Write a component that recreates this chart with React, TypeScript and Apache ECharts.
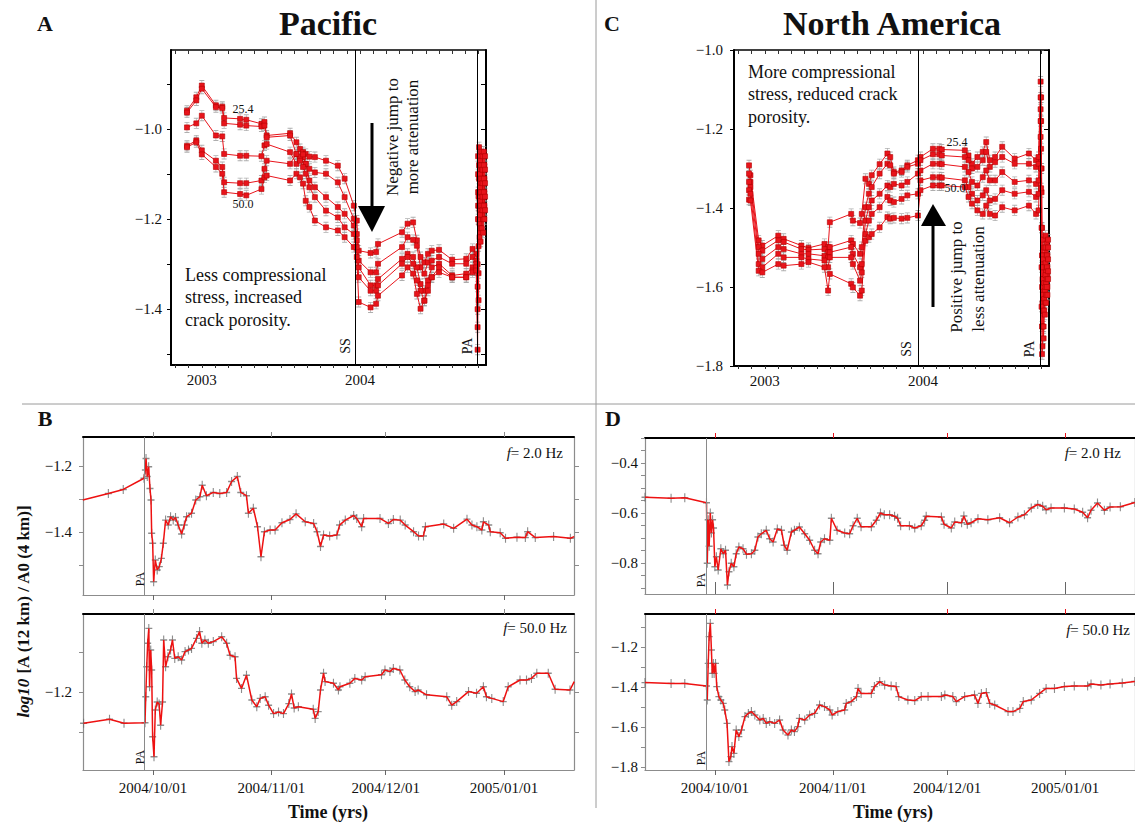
import { useEffect, useRef } from 'react';
import * as echarts from 'echarts';

const SERIF = 'Liberation Serif';
const RED = '#e8141b';
const LINE_RED = '#ee1111';
const AX_GRAY = '#8c8c8c';
const MINUS = '\u2212';

// ---- event markers ----
const SS_YEAR = 2003.973; // San Simeon 2003-12-22
const PA_YEAR = 2004.742; // Parkfield 2004-09-28
const PA_DAY = -2.28; // days relative to 2004/10/01

// ---- axes ----
const YEAR_MIN = 2002.805;
const YEAR_MAX = 2004.797;
const YEAR_LABELS = [2003, 2004];
const DAY_MIN = -18.35;
const DAY_MAX = 110.35;
const MONTH_DAYS = [0, 31, 61, 92];
const MONTH_LABELS = ['2004/10/01', '2004/11/01', '2004/12/01', '2005/01/01'];
const FREQS = ['25.4 Hz', '30.1 Hz', '35.6 Hz', '42.2 Hz', '50.0 Hz'];

// ---- Panel A: Pacific, 2003-2004 (decimal years) ----
const A_YEARS = [2002.906, 2002.965, 2003.0, 2003.089, 2003.129, 2003.141, 2003.242, 2003.281, 2003.377, 2003.396,
  2003.41, 2003.558, 2003.598, 2003.621, 2003.64, 2003.657, 2003.68, 2003.715, 2003.785, 2003.86,
  2003.903, 2003.961, 2003.98, 2003.992, 2004.067, 2004.102, 2004.114, 2004.266, 2004.301, 2004.336,
  2004.36, 2004.383, 2004.407, 2004.43, 2004.454, 2004.5, 2004.583, 2004.672, 2004.712, 2004.735,
  2004.744, 2004.747, 2004.75, 2004.753, 2004.756, 2004.759, 2004.763, 2004.767, 2004.771, 2004.775,
  2004.779, 2004.783, 2004.787, 2004.791];
const A_F1 = [-0.959, -0.929, -0.903, -0.947, -0.95, -0.975, -0.977, -0.979, -0.988, -0.984,
  -1.014, -1.009, -1.029, -1.044, -1.051, -1.055, -1.061, -1.062, -1.07, -1.081,
  -1.11, -1.17, -1.203, -1.27, -1.275, -1.273, -1.255, -1.229, -1.21, -1.207,
  -1.247, -1.284, -1.296, -1.277, -1.27, -1.268, -1.29, -1.288, -1.266, -1.277,
  -1.3, -1.06, -1.15, -1.04, -1.1, -1.07, -1.12, -1.05, -1.09, -1.06, -1.11, -1.05, -1.08, -1.06];
const A_F2 = [-0.963, -0.936, -0.91, -0.951, -0.953, -0.987, -0.99, -0.992, -0.994, -0.992,
  -1.018, -1.014, -1.056, -1.066, -1.062, -1.077, -1.088, -1.096, -1.099, -1.118,
  -1.151, -1.199, -1.233, -1.292, -1.318, -1.318, -1.299, -1.262, -1.24, -1.246,
  -1.259, -1.307, -1.321, -1.296, -1.292, -1.284, -1.299, -1.299, -1.284, -1.292,
  -1.35, -1.1, -1.2, -1.08, -1.14, -1.1, -1.16, -1.08, -1.13, -1.09, -1.14, -1.08, -1.11, -1.09];
const A_F3 = [-0.996, -0.987, -0.97, -1.014, -1.016, -1.055, -1.059, -1.059, -1.06, -1.036,
  -1.033, -1.051, -1.077, -1.061, -1.056, -1.077, -1.114, -1.129, -1.151, -1.173,
  -1.188, -1.214, -1.247, -1.307, -1.347, -1.347, -1.333, -1.288, -1.277, -1.284,
  -1.307, -1.344, -1.359, -1.336, -1.307, -1.299, -1.325, -1.321, -1.307, -1.299,
  -1.4, -1.14, -1.26, -1.11, -1.18, -1.13, -1.19, -1.11, -1.16, -1.12, -1.17, -1.11, -1.14, -1.12];
const A_F4 = [-1.037, -1.025, -1.047, -1.07, -1.084, -1.118, -1.12, -1.12, -1.114, -1.088,
  -1.07, -1.077, -1.055, -1.07, -1.084, -1.099, -1.129, -1.151, -1.181, -1.196,
  -1.218, -1.233, -1.262, -1.329, -1.359, -1.359, -1.347, -1.299, -1.284, -1.299,
  -1.336, -1.359, -1.381, -1.347, -1.329, -1.307, -1.329, -1.329, -1.314, -1.307,
  -1.44, -1.17, -1.32, -1.14, -1.21, -1.16, -1.22, -1.14, -1.19, -1.15, -1.2, -1.14, -1.17, -1.15];
const A_F5 = [-1.04, -1.029, -1.056, -1.084, -1.099, -1.14, -1.144, -1.147, -1.133, -1.107,
  -1.103, -1.114, -1.099, -1.107, -1.121, -1.159, -1.173, -1.203, -1.218, -1.225,
  -1.24, -1.262, -1.284, -1.384, -1.396, -1.388, -1.37, -1.325, -1.307, -1.321,
  -1.366, -1.399, -1.381, -1.359, -1.329, -1.318, -1.329, -1.329, -1.318, -1.314,
  -1.49, -1.2, -1.38, -1.17, -1.24, -1.19, -1.25, -1.17, -1.22, -1.18, -1.23, -1.17, -1.2, -1.18];

// ---- Panel C: North America, 2003-2004 ----
const C_YEARS = [2002.9, 2002.909, 2002.961, 2002.984, 2003.085, 2003.119, 2003.231, 2003.276, 2003.377, 2003.4,
  2003.411, 2003.546, 2003.557, 2003.602, 2003.613, 2003.636, 2003.658, 2003.676, 2003.726, 2003.775,
  2003.793, 2003.816, 2003.865, 2003.901, 2003.968, 2003.984, 2004.063, 2004.103, 2004.119, 2004.265,
  2004.288, 2004.31, 2004.344, 2004.378, 2004.4, 2004.423, 2004.456, 2004.501, 2004.58, 2004.67,
  2004.715, 2004.731,
  2004.744, 2004.747, 2004.75, 2004.753, 2004.756, 2004.759, 2004.763, 2004.767, 2004.771, 2004.775,
  2004.779, 2004.783, 2004.787, 2004.791];
const C_F1 = [-1.292, -1.317, -1.482, -1.495, -1.47, -1.478, -1.495, -1.501, -1.491, -1.499,
  -1.436, -1.415, -1.432, -1.438, -1.415, -1.326, -1.339, -1.317, -1.289, -1.262,
  -1.271, -1.309, -1.305, -1.292, -1.279, -1.271, -1.25, -1.25, -1.252, -1.254,
  -1.267, -1.288, -1.271, -1.258, -1.233, -1.279, -1.271, -1.245, -1.275, -1.262,
  -1.279, -1.271,
  -1.08, -1.12, -1.3, -1.45, -1.52, -1.48, -1.58, -1.5, -1.55, -1.47, -1.53, -1.49, -1.52, -1.48];
const C_F2 = [-1.313, -1.334, -1.499, -1.508, -1.482, -1.486, -1.504, -1.506, -1.504, -1.512,
  -1.499, -1.482, -1.491, -1.516, -1.499, -1.398, -1.364, -1.347, -1.313, -1.288,
  -1.292, -1.313, -1.309, -1.296, -1.288, -1.279, -1.264, -1.264, -1.267, -1.271,
  -1.279, -1.3, -1.296, -1.279, -1.258, -1.296, -1.284, -1.271, -1.288, -1.288,
  -1.296, -1.288,
  -1.12, -1.18, -1.36, -1.52, -1.58, -1.53, -1.62, -1.55, -1.58, -1.5, -1.56, -1.52, -1.55, -1.5];
const C_F3 = [-1.334, -1.347, -1.516, -1.529, -1.499, -1.504, -1.516, -1.516, -1.521, -1.525,
  -1.512, -1.499, -1.516, -1.55, -1.542, -1.432, -1.398, -1.381, -1.364, -1.343,
  -1.347, -1.339, -1.343, -1.334, -1.313, -1.305, -1.288, -1.288, -1.289, -1.296,
  -1.309, -1.334, -1.343, -1.322, -1.305, -1.33, -1.33, -1.309, -1.334, -1.33,
  -1.339, -1.33,
  -1.15, -1.25, -1.45, -1.6, -1.64, -1.58, -1.66, -1.59, -1.61, -1.54, -1.59, -1.55, -1.57, -1.53];
const C_F4 = [-1.355, -1.364, -1.542, -1.55, -1.516, -1.525, -1.525, -1.529, -1.533, -1.55,
  -1.525, -1.525, -1.542, -1.584, -1.563, -1.466, -1.432, -1.415, -1.398, -1.372,
  -1.381, -1.385, -1.377, -1.368, -1.364, -1.33, -1.322, -1.322, -1.323, -1.33,
  -1.347, -1.364, -1.381, -1.368, -1.355, -1.381, -1.377, -1.355, -1.364, -1.359,
  -1.372, -1.364,
  -1.18, -1.3, -1.55, -1.7, -1.7, -1.62, -1.7, -1.63, -1.64, -1.57, -1.62, -1.58, -1.6, -1.56];
const C_F5 = [-1.379, -1.381, -1.559, -1.563, -1.542, -1.546, -1.542, -1.537, -1.55, -1.609,
  -1.567, -1.592, -1.601, -1.622, -1.609, -1.483, -1.474, -1.466, -1.449, -1.423,
  -1.427, -1.425, -1.427, -1.425, -1.419, -1.355, -1.343, -1.343, -1.343, -1.347,
  -1.372, -1.389, -1.406, -1.415, -1.394, -1.415, -1.419, -1.398, -1.406, -1.394,
  -1.415, -1.406,
  -1.22, -1.35, -1.65, -1.77, -1.75, -1.66, -1.73, -1.66, -1.67, -1.6, -1.64, -1.6, -1.62, -1.58];

// ---- Panel B: Pacific, days since 2004/10/01 ----
const PAC_2HZ: number[][] = [[-18.4, -1.303], [-11.7, -1.283], [-7.8, -1.271], [-2.36, -1.237], [-2.0, -1.212], [-1.83, -1.177],
  [-1.5, -1.232], [-1.14, -1.202], [-0.79, -1.268], [-0.52, -1.303], [-0.35, -1.404], [-0.09, -1.434], [0.17, -1.551],
  [0.6, -1.485], [1.1, -1.515], [1.65, -1.505], [2.2, -1.48], [2.7, -1.434], [3.3, -1.364], [4.0, -1.379], [4.6, -1.354],
  [5.3, -1.364], [5.9, -1.356], [6.6, -1.379], [7.5, -1.406], [8.2, -1.379], [8.8, -1.354], [10.1, -1.343], [11.2, -1.303],
  [12.3, -1.293], [12.9, -1.258], [14.0, -1.29], [15.8, -1.28], [17.5, -1.283], [19.3, -1.28], [20.6, -1.247], [22.1, -1.232],
  [23.0, -1.28], [24.5, -1.29], [25.0, -1.343], [26.3, -1.328], [27.4, -1.384], [28.3, -1.475], [29.2, -1.399], [30.7, -1.394],
  [32.0, -1.394], [33.8, -1.372], [35.9, -1.362], [37.5, -1.345], [39.9, -1.369], [42.1, -1.374], [43.0, -1.399], [43.9, -1.444],
  [44.7, -1.409], [46.3, -1.412], [48.2, -1.409], [48.9, -1.379], [50.4, -1.364], [52.6, -1.35], [53.4, -1.359], [54.7, -1.384],
  [55.2, -1.359], [59.5, -1.359], [61.7, -1.374], [63.0, -1.362], [64.8, -1.364], [66.1, -1.379], [68.3, -1.399], [69.6, -1.412],
  [70.9, -1.412], [71.4, -1.384], [76.2, -1.376], [78.8, -1.389], [82.3, -1.361], [83.6, -1.379], [84.9, -1.384], [86.2, -1.394],
  [86.6, -1.369], [88.0, -1.379], [88.4, -1.399], [91.0, -1.402], [92.4, -1.419], [95.4, -1.416], [97.6, -1.417], [98.2, -1.399],
  [100.2, -1.417], [105.0, -1.414], [109.4, -1.419], [110.4, -1.414]];
const PAC_50HZ: number[][] = [[-18.2, -1.278], [-11.4, -1.268], [-7.6, -1.278], [-2.1, -1.277], [-1.9, -1.212], [-1.65, -1.137],
  [-1.4, -1.078], [-1.1, -1.041], [-0.9, -1.187], [-0.6, -1.095], [-0.35, -1.145], [-0.1, -1.312], [0.26, -1.362], [0.6, -1.245],
  [1.1, -1.225], [1.6, -1.23], [2.0, -1.283], [2.5, -1.225], [2.8, -1.07], [3.3, -1.137], [3.9, -1.112], [4.6, -1.095],
  [5.1, -1.07], [5.7, -1.116], [6.6, -1.112], [7.5, -1.12], [8.4, -1.099], [9.3, -1.095], [10.1, -1.091], [11.4, -1.066],
  [12.2, -1.049], [12.8, -1.078], [13.6, -1.07], [14.5, -1.078], [15.8, -1.074], [18.0, -1.062], [19.3, -1.078], [20.2, -1.108],
  [21.5, -1.112], [21.9, -1.166], [23.2, -1.191], [24.5, -1.158], [25.9, -1.22], [27.2, -1.237], [28.1, -1.216], [29.4, -1.212],
  [30.3, -1.233], [31.6, -1.254], [32.9, -1.25], [34.2, -1.254], [35.6, -1.229], [36.3, -1.205], [37.0, -1.24], [38.1, -1.237],
  [42.0, -1.243], [42.5, -1.266], [43.3, -1.249], [43.9, -1.195], [44.7, -1.153], [45.1, -1.174], [47.3, -1.178], [48.6, -1.195],
  [49.0, -1.187], [51.6, -1.178], [52.9, -1.166], [54.7, -1.17], [55.6, -1.162], [59.9, -1.157], [60.8, -1.145], [62.1, -1.149],
  [63.0, -1.141], [64.7, -1.145], [66.0, -1.17], [67.3, -1.187], [68.7, -1.199], [69.5, -1.195], [71.7, -1.207], [77.0, -1.212],
  [78.3, -1.233], [79.6, -1.224], [82.7, -1.199], [84.8, -1.203], [86.6, -1.187], [87.4, -1.212], [88.8, -1.216], [91.8, -1.224],
  [93.1, -1.187], [96.2, -1.17], [97.9, -1.17], [99.2, -1.166], [100.6, -1.153], [103.6, -1.153], [105.4, -1.193], [109.3, -1.195],
  [110.4, -1.174]];

// ---- Panel D: North America, days since 2004/10/01 ----
const NAM_2HZ: number[][] = [[-18.35, -0.537], [-11.5, -0.541], [-7.9, -0.539], [-2.2, -0.559], [-2.0, -0.801], [-1.75, -0.627],
  [-1.5, -0.733], [-1.2, -0.6], [-0.9, -0.68], [-0.6, -0.627], [-0.35, -0.66], [0.0, -0.815], [0.4, -0.775], [0.87, -0.828],
  [1.57, -0.743], [2.2, -0.763], [2.8, -0.749], [3.3, -0.888], [3.7, -0.835], [4.3, -0.801], [5.0, -0.815], [5.6, -0.763],
  [6.3, -0.736], [7.4, -0.743], [8.3, -0.765], [9.6, -0.763], [10.5, -0.749], [11.3, -0.696], [12.2, -0.683], [13.5, -0.669],
  [14.4, -0.703], [15.3, -0.716], [16.4, -0.664], [17.5, -0.669], [18.2, -0.729], [19.0, -0.749], [20.1, -0.676], [20.9, -0.669],
  [22.2, -0.656], [23.6, -0.683], [24.9, -0.709], [26.2, -0.749], [27.1, -0.763], [27.8, -0.716], [28.8, -0.703], [30.2, -0.709],
  [30.6, -0.621], [32.1, -0.669], [34.1, -0.68], [35.4, -0.683], [36.3, -0.651], [37.4, -0.621], [38.4, -0.655], [41.1, -0.655],
  [42.4, -0.629], [43.5, -0.6], [44.5, -0.607], [45.9, -0.607], [47.2, -0.613], [48.0, -0.621], [48.8, -0.651], [51.1, -0.651],
  [52.5, -0.66], [54.2, -0.651], [55.1, -0.629], [55.5, -0.613], [59.5, -0.616], [60.2, -0.645], [62.1, -0.66], [63.0, -0.636],
  [64.8, -0.639], [65.4, -0.612], [66.3, -0.645], [67.3, -0.639], [69.1, -0.623], [71.7, -0.627], [74.8, -0.619], [77.4, -0.639],
  [79.6, -0.616], [81.3, -0.607], [83.1, -0.58], [84.8, -0.566], [86.1, -0.573], [87.0, -0.587], [88.3, -0.58], [91.8, -0.58],
  [94.4, -0.584], [96.6, -0.597], [97.9, -0.619], [98.8, -0.589], [100.5, -0.56], [102.3, -0.589], [103.8, -0.576], [106.5, -0.575],
  [110.3, -0.558]];
const NAM_50HZ: number[][] = [[-18.35, -1.378], [-11.5, -1.382], [-7.9, -1.382], [-2.2, -1.395], [-2.0, -1.465], [-1.75, -1.282],
  [-1.5, -1.148], [-1.2, -1.082], [-0.9, -1.215], [-0.7, -1.332], [-0.4, -1.282], [-0.2, -1.332], [0.17, -1.282], [0.5, -1.398],
  [1.05, -1.448], [1.57, -1.465], [2.2, -1.482], [2.6, -1.515], [3.2, -1.582], [3.7, -1.773], [4.2, -1.748], [4.5, -1.698],
  [5.0, -1.732], [5.6, -1.615], [6.3, -1.648], [7.0, -1.615], [7.9, -1.548], [8.8, -1.532], [9.6, -1.523], [10.5, -1.54],
  [11.8, -1.565], [12.7, -1.557], [13.5, -1.582], [14.4, -1.573], [15.7, -1.582], [17.0, -1.565], [17.9, -1.615], [19.2, -1.64],
  [20.1, -1.615], [20.9, -1.623], [21.8, -1.598], [22.2, -1.557], [23.6, -1.565], [24.9, -1.54], [26.2, -1.532], [27.5, -1.49],
  [28.8, -1.498], [30.2, -1.515], [30.8, -1.54], [32.3, -1.523], [34.1, -1.515], [34.5, -1.482], [35.8, -1.473], [37.2, -1.448],
  [37.6, -1.407], [38.4, -1.432], [41.1, -1.432], [41.9, -1.398], [43.3, -1.373], [44.6, -1.39], [46.3, -1.395], [47.6, -1.398],
  [48.3, -1.448], [50.7, -1.465], [52.5, -1.468], [54.2, -1.448], [56.0, -1.448], [59.5, -1.448], [60.4, -1.44], [62.5, -1.448],
  [63.4, -1.473], [65.6, -1.448], [68.2, -1.44], [69.1, -1.482], [70.0, -1.432], [71.3, -1.428], [72.2, -1.482], [73.5, -1.49],
  [77.0, -1.523], [78.3, -1.523], [80.1, -1.507], [81.0, -1.473], [83.1, -1.465], [85.3, -1.432], [87.0, -1.407], [89.2, -1.407],
  [91.8, -1.398], [94.4, -1.395], [97.9, -1.395], [98.8, -1.385], [101.4, -1.39], [103.8, -1.385], [107.0, -1.38], [110.3, -1.372]];

const IBEAM = 'path://M0,0H10V1.6H5.7V18.4H10V20H0V18.4H4.3V1.6H0Z';
const PLUS = 'path://M4.2,0H5.8V4.2H10V5.8H5.8V10H4.2V5.8H0V4.2H4.2Z';

const fmt1 = (v: number) => (v < 0 ? MINUS : '') + Math.abs(v).toFixed(1);

function monthTicksYears(): number[] {
  const out: number[] = [];
  for (let k = 0; k < 24; k++) out.push(2002 + 10 / 12 + k / 12);
  return out;
}

function range(a: number, b: number, step: number): number[] {
  const out: number[] = [];
  const n = Math.round((b - a) / step);
  for (let i = 0; i <= n; i++) out.push(Math.round((a + i * step) * 1000) / 1000);
  return out;
}

function buildOption() {
  const grids = [
    { left: 171, top: 50, width: 315, height: 315 },
    { left: 734, top: 50, width: 315, height: 316 },
    { left: 83, top: 437, width: 491, height: 158 },
    { left: 83, top: 614, width: 491, height: 156 },
    { left: 645, top: 438, width: 491, height: 156 },
    { left: 645, top: 614, width: 491, height: 156 },
  ].map((g) => ({ ...g, show: false, containLabel: false }));

  const xAxes: any[] = [];
  const yAxes: any[] = [];
  const series: any[] = [];

  const lbl = (show: boolean, values: number[] | undefined, fmt: any, margin: number) => ({
    show, customValues: values, formatter: fmt, fontFamily: SERIF, fontSize: 15, color: '#111', margin,
  });

  const xPair = (g: number, min: number, max: number, o: any) => {
    xAxes.push({
      gridIndex: g, type: 'value', position: 'bottom', min, max,
      axisLine: { show: true, onZero: false, lineStyle: { color: o.bColor, width: o.bWidth } },
      axisTick: { show: true, customValues: o.ticks, inside: o.bInside, length: o.bLen, lineStyle: { color: o.bTickColor, width: 1 } },
      axisLabel: lbl(!!o.labels, o.labels, o.fmt, o.margin),
      splitLine: { show: false },
    });
    xAxes.push({
      gridIndex: g, type: 'value', position: 'top', min, max,
      axisLine: { show: true, onZero: false, lineStyle: { color: o.tColor, width: o.tWidth } },
      axisTick: { show: true, customValues: o.ticks, inside: o.tInside, length: o.tLen, lineStyle: { color: o.tTickColor, width: 1 } },
      axisLabel: { show: false },
      splitLine: { show: false },
    });
  };
  const yPair = (g: number, min: number, max: number, o: any) => {
    yAxes.push({
      gridIndex: g, type: 'value', position: 'left', min, max,
      axisLine: { show: true, onZero: false, lineStyle: { color: o.color, width: o.lWidth } },
      axisTick: { show: true, customValues: o.ticks, inside: o.lInside, length: 4, lineStyle: { color: o.color } },
      axisLabel: lbl(true, o.labels, fmt1, o.margin),
      splitLine: { show: false },
    });
    yAxes.push({
      gridIndex: g, type: 'value', position: 'right', min, max,
      axisLine: { show: true, onZero: false, lineStyle: { color: o.color, width: o.rWidth } },
      axisTick: { show: true, customValues: o.ticks, inside: o.rInside, length: 5, lineStyle: { color: o.color } },
      axisLabel: { show: false },
      splitLine: { show: false },
    });
  };

  const yearTicks = monthTicksYears();
  const yearCfg = {
    ticks: yearTicks, labels: YEAR_LABELS, fmt: (v: number) => String(Math.round(v)), margin: 7,
    bColor: '#000', bWidth: 2, bInside: false, bLen: 3, bTickColor: '#333',
    tColor: '#000', tWidth: 1.5, tInside: true, tLen: 4, tTickColor: '#333',
  };
  // A
  xPair(0, YEAR_MIN, YEAR_MAX, yearCfg);
  yPair(0, -1.524, -0.824, { color: '#000', lWidth: 2, rWidth: 2, ticks: range(-1.5, -0.9, 0.1), labels: [-1.4, -1.2, -1.0], margin: 9, lInside: false, rInside: true });
  // C
  xPair(1, YEAR_MIN, YEAR_MAX, yearCfg);
  yPair(1, -1.8, -1.0, { color: '#000', lWidth: 2, rWidth: 2, ticks: range(-1.8, -1.0, 0.2), labels: [-1.8, -1.6, -1.4, -1.2, -1.0], margin: 11, lInside: false, rInside: true });

  const dayFmt = (v: number) => {
    const i = MONTH_DAYS.indexOf(Math.round(v));
    return i >= 0 ? MONTH_LABELS[i] : '';
  };
  const dayCfg = (labels: boolean, bInside: boolean, bLen: number, topTick: string) => ({
    ticks: MONTH_DAYS, labels: labels ? MONTH_DAYS : undefined, fmt: dayFmt, margin: 10,
    bColor: AX_GRAY, bWidth: 1.2, bInside, bLen, bTickColor: '#666',
    tColor: '#000', tWidth: 2, tInside: false, tLen: 5, tTickColor: topTick,
  });
  // B top / bottom
  xPair(2, DAY_MIN, DAY_MAX, dayCfg(false, false, 5, AX_GRAY));
  yPair(2, -1.591, -1.112, { color: AX_GRAY, lWidth: 1.2, rWidth: 1.2, ticks: [-1.5, -1.4, -1.3, -1.2], labels: [-1.4, -1.2], margin: 11, lInside: false, rInside: false });
  xPair(3, DAY_MIN, DAY_MAX, dayCfg(true, false, 5, AX_GRAY));
  yPair(3, -1.395, -1.005, { color: AX_GRAY, lWidth: 1.2, rWidth: 1.2, ticks: [-1.3, -1.2, -1.1], labels: [-1.2], margin: 11, lInside: false, rInside: false });
  // D top / bottom
  xPair(4, DAY_MIN, DAY_MAX, dayCfg(false, true, 12, RED));
  yPair(4, -0.924, -0.3, { color: AX_GRAY, lWidth: 1.2, rWidth: 1.2, ticks: range(-0.9, -0.3, 0.05), labels: [-0.8, -0.6, -0.4], margin: 7, lInside: false, rInside: false });
  xPair(5, DAY_MIN, DAY_MAX, dayCfg(true, false, 5, RED));
  yPair(5, -1.815, -1.035, { color: AX_GRAY, lWidth: 1.2, rWidth: 1.2, ticks: range(-1.8, -1.1, 0.1), labels: [-1.8, -1.6, -1.4, -1.2], margin: 7, lInside: false, rInside: false });

  const vline = (values: number[], color: string) => ({
    silent: true, symbol: ['none', 'none'], label: { show: false },
    lineStyle: { color, width: 1, type: 'solid' },
    data: values.map((v) => ({ xAxis: v })),
    animation: false,
  });

  const yearPanel = (g: number, years: number[], sets: number[][]) => {
    const all: number[][] = [];
    sets.forEach((vals, k) => {
      const d = years.map((t, i) => [t, vals[i]]);
      all.push(...d);
      series.push({
        type: 'line', name: FREQS[k], xAxisIndex: 2 * g, yAxisIndex: 2 * g, data: d,
        symbol: 'rect', symbolSize: 5, showSymbol: true,
        lineStyle: { color: RED, width: 1 }, itemStyle: { color: RED, borderColor: '#b30000', borderWidth: 0.6 },
        z: 4, markLine: k === 0 ? vline([SS_YEAR, PA_YEAR], '#000') : undefined,
      });
    });
    series.push({
      type: 'scatter', xAxisIndex: 2 * g, yAxisIndex: 2 * g, data: all, symbol: IBEAM,
      symbolSize: [5, 11], itemStyle: { color: '#9a9a9a' }, z: 3, silent: true,
    });
  };
  yearPanel(0, A_YEARS, [A_F1, A_F2, A_F3, A_F4, A_F5]);
  yearPanel(1, C_YEARS, [C_F1, C_F2, C_F3, C_F4, C_F5]);

  const dayPanel = (g: number, pts: number[][]) => {
    series.push({
      type: 'scatter', xAxisIndex: 2 * g, yAxisIndex: 2 * g, data: pts, symbol: PLUS,
      symbolSize: [7, 9], itemStyle: { color: '#707070' }, z: 3, silent: true,
    });
    series.push({
      type: 'line', xAxisIndex: 2 * g, yAxisIndex: 2 * g, data: pts, symbol: 'none',
      lineStyle: { color: LINE_RED, width: 1.5 }, z: 4, markLine: vline([PA_DAY], '#8a8a8a'),
    });
  };
  dayPanel(2, PAC_2HZ);
  dayPanel(3, PAC_50HZ);
  dayPanel(4, NAM_2HZ);
  dayPanel(5, NAM_50HZ);

  const txt = (x: number, y: number, text: string, size: number, o: any = {}) => ({
    type: 'text', x, y, rotation: o.rot || 0, z: 100, silent: true,
    style: {
      text, fill: '#111', fontFamily: SERIF, fontSize: size,
      fontWeight: o.bold ? 'bold' : 'normal', fontStyle: o.italic ? 'italic' : 'normal',
      align: o.align || 'center', verticalAlign: 'middle',
      textAlign: o.align || 'center', textVerticalAlign: 'middle',
      rich: o.rich,
    },
  });
  const R = Math.PI / 2;
  const fRich = { i: { fontStyle: 'italic', fontFamily: SERIF, fontSize: 15, fill: '#111' }, n: { fontFamily: SERIF, fontSize: 15, fill: '#111' } };

  const graphic: any[] = [
    // dividers
    { type: 'line', shape: { x1: 596, y1: 0, x2: 596, y2: 808 }, style: { stroke: '#9a9a9a', lineWidth: 1 }, silent: true },
    { type: 'line', shape: { x1: 22, y1: 404, x2: 1135, y2: 404 }, style: { stroke: '#9a9a9a', lineWidth: 1 }, silent: true },
    // titles and panel letters
    txt(328, 23, 'Pacific', 34, { bold: true }),
    txt(892, 23, 'North America', 34, { bold: true }),
    txt(45, 23, 'A', 22, { bold: true }),
    txt(612, 23, 'C', 22, { bold: true }),
    txt(45, 418, 'B', 22, { bold: true }),
    txt(613, 418, 'D', 22, { bold: true }),
    // panel A annotations
    txt(243, 109, '25.4', 12),
    txt(243, 204, '50.0', 12),
    txt(392, 137, 'Negative jump to', 17, { rot: R }),
    txt(412, 137, 'more attenuation', 17, { rot: R }),
    txt(185, 275, 'Less compressional', 18, { align: 'left' }),
    txt(185, 297, 'stress, increased', 18, { align: 'left' }),
    txt(185, 320, 'crack porosity.', 18, { align: 'left' }),
    txt(345, 346, 'SS', 14, { rot: R }),
    txt(467, 346, 'PA', 14, { rot: R }),
    { type: 'line', shape: { x1: 372, y1: 123, x2: 372, y2: 212 }, style: { stroke: '#000', lineWidth: 3 }, silent: true, z: 100 },
    { type: 'polygon', shape: { points: [[358, 206], [385, 206], [372, 232]] }, style: { fill: '#000' }, silent: true, z: 100 },
    // panel C annotations
    txt(748, 72, 'More compressional', 18, { align: 'left' }),
    txt(748, 94, 'stress, reduced crack', 18, { align: 'left' }),
    txt(748, 117, 'porosity.', 18, { align: 'left' }),
    txt(957, 142, '25.4', 12),
    txt(955, 188, '50.0', 12),
    txt(956, 277, 'Positive jump to', 17, { rot: R }),
    txt(978, 279, 'less attenuation', 17, { rot: R }),
    txt(906, 349, 'SS', 14, { rot: R }),
    txt(1029, 349, 'PA', 14, { rot: R }),
    { type: 'line', shape: { x1: 933, y1: 307, x2: 933, y2: 220 }, style: { stroke: '#000', lineWidth: 3 }, silent: true, z: 100 },
    { type: 'polygon', shape: { points: [[921, 226], [946, 226], [933, 204]] }, style: { fill: '#000' }, silent: true, z: 100 },
    // panel B annotations
    txt(563, 453, '{i|f}{n|= 2.0 Hz}', 15, { align: 'right', rich: fRich }),
    txt(567, 628, '{i|f}{n|= 50.0 Hz}', 15, { align: 'right', rich: fRich }),
    txt(140, 579, 'PA', 12, { rot: R }),
    txt(140, 757, 'PA', 12, { rot: R }),
    txt(328, 812, 'Time (yrs)', 18, { bold: true }),
    txt(23, 611, '{a|log10} {b|[A (12 km) / A0 (4 km)]}', 17, {
      rot: R, rich: {
        a: { fontStyle: 'italic', fontWeight: 'bold', fontFamily: SERIF, fontSize: 17, fill: '#111' },
        b: { fontWeight: 'bold', fontFamily: SERIF, fontSize: 17, fill: '#111' },
      },
    }),
    // panel D annotations
    txt(1121, 453, '{i|f}{n|= 2.0 Hz}', 15, { align: 'right', rich: fRich }),
    txt(1130, 630, '{i|f}{n|= 50.0 Hz}', 15, { align: 'right', rich: fRich }),
    txt(701, 580, 'PA', 12, { rot: R }),
    txt(701, 758, 'PA', 12, { rot: R }),
    txt(893, 812, 'Time (yrs)', 18, { bold: true }),
  ];

  return {
    animation: false,
    backgroundColor: '#ffffff',
    textStyle: { fontFamily: SERIF },
    grid: grids,
    xAxis: xAxes,
    yAxis: yAxes,
    series,
    graphic,
  };
}

export default function App() {
  const ref = useRef<HTMLDivElement>(null);
  useEffect(() => {
    if (!ref.current) return;
    const chart = echarts.init(ref.current, undefined, { renderer: 'svg' });
    chart.setOption(buildOption() as any);
    return () => chart.dispose();
  }, []);
  return (
    <div
      ref={ref}
      style={{ position: 'fixed', left: 0, top: 0, width: 1135, height: 823, background: '#fff' }}
    />
  );
}
